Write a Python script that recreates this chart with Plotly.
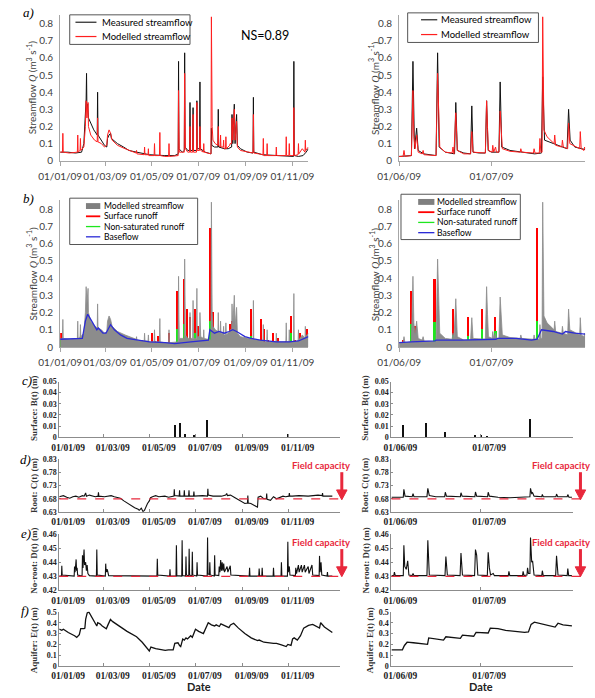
import pandas as pd
import plotly.graph_objects as go

W, H = 595, 698
LEFT_START = "2009-01-01"
RIGHT_START = "2009-06-01"

# ---------------- DATA (day offset from start date, value) ----------------
# a) streamflow Q (m3/s), whole record (from 01/01/09)
a_left_measured = [
    (0, 0.05), (10, 0.05), (20, 0.045), (28, 0.05), (31, 0.1), (33, 0.3), (34, 0.36), (34.5, 0.51), (35, 0.3), (36, 0.33),
    (37, 0.25), (40, 0.22), (44, 0.18), (48.5, 0.15), (49, 0.40), (49.5, 0.15), (54, 0.12), (58, 0.09), (61, 0.08), (62, 0.13),
    (64, 0.15), (66, 0.16), (67, 0.13), (70, 0.12), (75, 0.1), (83, 0.08), (90, 0.06), (100, 0.05), (117, 0.035), (137, 0.03),
    (150, 0.03), (154.5, 0.04), (155, 0.58), (155.5, 0.07), (160, 0.05), (162.5, 0.06), (163, 0.63), (163.5, 0.08), (167, 0.06), (169.5, 0.06),
    (170, 0.34), (170.5, 0.06), (173.5, 0.06), (174, 0.31), (174.5, 0.06), (178.5, 0.06), (179, 0.35), (179.5, 0.07), (182.5, 0.07), (183, 0.46),
    (183.5, 0.07), (190, 0.05), (197.5, 0.04), (198, 0.19), (198.5, 0.09), (202, 0.08), (206.5, 0.08), (207, 0.3), (207.5, 0.08), (215, 0.07),
    (220, 0.07), (224.5, 0.08), (225, 0.27), (226, 0.1), (228, 0.33), (229, 0.1), (231, 0.27), (232, 0.09), (236, 0.07), (245, 0.05),
    (252.5, 0.045), (253, 0.37), (253.5, 0.05), (265, 0.035), (280, 0.03), (295, 0.025), (305.5, 0.025), (306, 0.58), (306.5, 0.03), (312, 0.025),
    (318, 0.03), (322, 0.05), (325, 0.07),
]
a_left_modelled = [
    (0, 0.05), (3, 0.05), (3.5, 0.16), (4, 0.05), (12, 0.045), (22.5, 0.05), (23, 0.15), (23.5, 0.05), (26, 0.06), (26.5, 0.13),
    (27, 0.06), (31, 0.08), (33, 0.2), (34, 0.35), (35, 0.25), (36.5, 0.34), (37, 0.2), (40, 0.15), (45, 0.12), (48.5, 0.11),
    (49, 0.25), (49.5, 0.11), (54, 0.1), (58, 0.08), (61, 0.09), (62, 0.15), (64, 0.18), (66, 0.16), (68, 0.12), (75, 0.09),
    (85, 0.07), (95, 0.05), (99.5, 0.045), (100, 0.06), (100.5, 0.04), (110, 0.035), (110.5, 0.08), (111, 0.035), (115, 0.035), (115.5, 0.07),
    (116, 0.03), (123, 0.03), (123.5, 0.1), (124, 0.03), (130, 0.03), (130.5, 0.165), (131, 0.03), (137, 0.025), (142, 0.025), (142.5, 0.1),
    (143, 0.025), (154.5, 0.03), (155, 0.41), (155.5, 0.19), (156, 0.05), (162.5, 0.05), (163, 0.51), (164, 0.07), (167, 0.05), (169.5, 0.05),
    (170, 0.2), (170.5, 0.05), (173.5, 0.05), (174, 0.27), (174.5, 0.05), (178.5, 0.05), (179, 0.34), (179.5, 0.06), (182.5, 0.06), (183, 0.2),
    (184, 0.06), (187.5, 0.05), (188, 0.1), (188.5, 0.05), (197.5, 0.04), (198, 0.84), (199, 0.2), (200, 0.12), (203, 0.1), (206.5, 0.09),
    (207, 0.2), (207.5, 0.09), (209.5, 0.08), (210, 0.15), (210.5, 0.08), (213.5, 0.08), (214, 0.12), (214.5, 0.07), (216.5, 0.07), (217, 0.14),
    (217.5, 0.07), (222, 0.09), (222.5, 0.1), (224.5, 0.1), (225, 0.25), (226, 0.12), (228, 0.3), (229, 0.12), (231, 0.23), (232, 0.08),
    (236, 0.06), (245, 0.05), (252.5, 0.045), (253, 0.27), (253.5, 0.045), (260, 0.04), (265.5, 0.035), (266, 0.13), (266.5, 0.03), (270.5, 0.03),
    (271, 0.1), (271.5, 0.03), (282.5, 0.03), (283, 0.08), (283.5, 0.03), (295.5, 0.03), (296, 0.14), (296.5, 0.03), (299.5, 0.03), (300, 0.1),
    (300.5, 0.03), (305.5, 0.03), (306, 0.31), (306.5, 0.03), (311.5, 0.035), (312, 0.1), (312.5, 0.04), (317, 0.07), (320.5, 0.05), (321, 0.12),
    (321.5, 0.06), (325, 0.08),
]
# a) zoom June-July (from 01/06/09)
a_right_measured = [
    (0, 0.025), (4, 0.03), (4.5, 0.58), (5, 0.07), (5.7, 0.19), (6.2, 0.06), (8, 0.04), (12, 0.03), (12.5, 0.63), (13, 0.08),
    (15, 0.05), (18, 0.04), (18.4, 0.34), (18.9, 0.06), (21, 0.045), (23.2, 0.04), (23.6, 0.32), (24, 0.05), (26, 0.045), (28, 0.045),
    (28.4, 0.35), (28.9, 0.06), (30, 0.05), (32.4, 0.05), (32.8, 0.46), (33.3, 0.08), (36, 0.06), (40, 0.05), (44, 0.04), (46.2, 0.045),
    (46.6, 0.49), (47.2, 0.12), (50, 0.1), (54.5, 0.07), (55, 0.30), (55.5, 0.12), (57, 0.08), (60.4, 0.065),
]
a_right_modelled = [
    (0, 0.025), (1.3, 0.025), (1.6, 0.06), (1.9, 0.025), (4, 0.03), (4.5, 0.41), (4.8, 0.14), (5.2, 0.07), (5.7, 0.15), (6.2, 0.05),
    (7.5, 0.04), (7.8, 0.06), (8.1, 0.035), (12, 0.03), (12.5, 0.51), (12.8, 0.31), (13.2, 0.08), (15, 0.05), (17.2, 0.045), (17.5, 0.08),
    (17.8, 0.04), (18.4, 0.28), (18.9, 0.06), (21, 0.04), (23.2, 0.04), (23.6, 0.17), (24, 0.05), (28, 0.045), (28.4, 0.35), (28.7, 0.19),
    (29, 0.06), (30.2, 0.05), (30.4, 0.09), (30.7, 0.05), (31.3, 0.08), (31.6, 0.05), (32.4, 0.05), (32.8, 0.29), (33.1, 0.18), (33.5, 0.07),
    (36, 0.055), (39.3, 0.05), (39.5, 0.07), (39.8, 0.05), (43.6, 0.045), (43.8, 0.07), (44.1, 0.045), (45.5, 0.045), (45.7, 0.13), (46, 0.05),
    (46.4, 0.05), (46.6, 0.84), (47, 0.18), (48, 0.14), (50.3, 0.1), (50.5, 0.15), (50.8, 0.09), (52.8, 0.08), (53, 0.12), (53.3, 0.08),
    (54.7, 0.07), (55, 0.22), (55.4, 0.1), (58.6, 0.07), (58.8, 0.17), (59.1, 0.07), (60, 0.06), (60.2, 0.08), (60.4, 0.07),
]
# b) flow components
b_left_baseflow = [
    (0, 0.045), (29, 0.05), (33, 0.15), (36, 0.19), (40, 0.16), (46, 0.12), (48, 0.1), (50, 0.11), (56, 0.08), (60, 0.08),
    (66, 0.13), (71, 0.1), (79, 0.07), (87.5, 0.05), (100, 0.04), (117, 0.03), (137.5, 0.025), (150, 0.02), (171, 0.03), (194, 0.04),
    (196, 0.1), (202, 0.08), (208, 0.09), (215, 0.08), (221, 0.09), (226, 0.1), (231, 0.09), (242, 0.06), (250, 0.05), (262, 0.04),
    (283, 0.03), (300, 0.03), (312, 0.035), (325, 0.06),
]
b_left_surface = [
    (2, 0.08), (4, 0.03), (8, 0.02), (12.5, 0.03), (19, 0.03), (23, 0.03), (27, 0.02), (32.5, 0.06), (39, 0.02), (44, 0.02),
    (50, 0.03), (60, 0.04), (62.5, 0.06), (67, 0.03), (108, 0.04), (121, 0.08), (125, 0.03), (129, 0.06), (143, 0.08), (153, 0.32),
    (158, 0.04), (162, 0.39), (167, 0.22), (171, 0.17), (177, 0.22), (181, 0.12), (183, 0.05), (190, 0.03), (196, 0.69), (200, 0.2),
    (204, 0.05), (208, 0.08), (212, 0.04), (217, 0.05), (223, 0.13), (225, 0.15), (228, 0.1), (233, 0.03), (250, 0.22), (258, 0.03),
    (263, 0.16), (267.5, 0.1), (273, 0.04), (279, 0.08), (285, 0.05), (296, 0.03), (303, 0.18), (308, 0.04), (315, 0.08), (319, 0.05),
    (323, 0.1),
]
b_left_nonsat = [
    (2, 0.04), (10, 0.02), (21, 0.03), (33, 0.07), (35, 0.09), (40, 0.04), (50, 0.03), (63, 0.05), (66, 0.03), (153, 0.1),
    (162, 0.13), (167, 0.05), (177, 0.08), (183, 0.04), (196, 0.15), (200, 0.07), (208, 0.04), (223, 0.08), (225, 0.06), (229, 0.04),
    (250, 0.06), (263, 0.03), (303, 0.08), (317, 0.03),
]
b_right_baseflow = [
    (0, 0.025), (4, 0.03), (11.6, 0.035), (12, 0.04), (20, 0.04), (31.4, 0.045), (32, 0.05), (38, 0.05), (43, 0.04), (44.8, 0.045),
    (46.2, 0.1), (50, 0.09), (53, 0.075), (54, 0.09), (57, 0.08), (60.4, 0.075),
]
b_right_surface = [
    (1.5, 0.04), (3.9, 0.32), (5.2, 0.12), (7.7, 0.04), (11.6, 0.39), (17.5, 0.22), (19, 0.04), (22.5, 0.17), (24.2, 0.04), (27.1, 0.22),
    (29.2, 0.04), (31.2, 0.17), (33.5, 0.04), (37.6, 0.04), (42.8, 0.04), (44.8, 0.69), (49, 0.04), (51, 0.04), (53.6, 0.06), (56.2, 0.04),
    (57, 0.05), (58.2, 0.04),
]
b_right_nonsat = [
    (1.5, 0.02), (4.1, 0.13), (5.2, 0.08), (11.6, 0.14), (17.5, 0.07), (19, 0.02), (22.5, 0.06), (27.1, 0.1), (31.4, 0.09), (33.5, 0.02),
    (44.8, 0.15), (49, 0.02), (53.9, 0.04), (57.2, 0.02),
]
# c) surface storage B(t) (m)
c_left_B = [(154, 0.011), (160, 0.013), (167, 0.003), (178.5, 0.002), (180.6, 0.002), (196, 0.016), (303, 0.003)]
c_right_B = [(4.2, 0.011), (12, 0.0135), (18.2, 0.0055), (28.4, 0.002), (30.5, 0.002), (32.6, 0.001), (47, 0.0165)]
# d) root zone C(t) (m)
d_left_C = [
    (0, 0.688), (5.5, 0.692), (10, 0.686), (14, 0.682), (18, 0.688), (22, 0.69), (26, 0.686), (30.8, 0.692), (33, 0.69), (35, 0.702),
    (36, 0.69), (40, 0.694), (47.7, 0.688), (51.5, 0.69), (52, 0.705), (52.5, 0.69), (60, 0.688), (68.8, 0.692), (73, 0.688), (77, 0.684),
    (81, 0.682), (85.7, 0.672), (90, 0.664), (94, 0.656), (100, 0.646), (104.6, 0.64), (106, 0.636), (108.8, 0.644), (111, 0.632), (113, 0.636),
    (115, 0.65), (117, 0.662), (119.4, 0.672), (121, 0.684), (123.6, 0.688), (127.8, 0.692), (132, 0.688), (140, 0.69), (145, 0.686), (152, 0.69),
    (152.5, 0.716), (153, 0.692), (159, 0.69), (159.5, 0.712), (160, 0.69), (165.3, 0.69), (165.8, 0.712), (166.3, 0.69), (171.5, 0.69), (172, 0.712),
    (172.5, 0.69), (178, 0.69), (178.5, 0.708), (179, 0.69), (190, 0.692), (196.5, 0.69), (197, 0.718), (197.5, 0.694), (203.8, 0.69), (215, 0.69),
    (220.7, 0.694), (222, 0.70), (223, 0.692), (227, 0.694), (233, 0.684), (237, 0.678), (241.8, 0.668), (246, 0.662), (249.5, 0.664), (250, 0.692),
    (250.5, 0.664), (254, 0.662), (258.6, 0.656), (262.8, 0.648), (263.6, 0.686), (267, 0.69), (271, 0.68), (274.5, 0.68), (275, 0.70), (275.5, 0.678),
    (280, 0.674), (284, 0.688), (288, 0.68), (292, 0.686), (296.6, 0.69), (300, 0.688), (304.5, 0.69), (305, 0.702), (305.5, 0.69), (309, 0.69),
    (317.7, 0.692), (330, 0.69), (343, 0.694), (348.5, 0.692), (349, 0.702), (349.5, 0.69), (355.7, 0.69), (362, 0.69),
]
d_right_C = [
    (0, 0.686), (4, 0.686), (4.2, 0.716), (4.6, 0.69), (7, 0.688), (7.3, 0.70), (7.6, 0.688), (12, 0.688), (12.3, 0.72), (12.8, 0.692),
    (15, 0.688), (18, 0.688), (18.2, 0.705), (18.6, 0.69), (23.3, 0.688), (23.5, 0.703), (23.9, 0.69), (28.2, 0.688), (28.4, 0.706), (28.8, 0.69),
    (32.5, 0.688), (32.7, 0.705), (33.1, 0.69), (36, 0.686), (40, 0.684), (44, 0.685), (46.8, 0.688), (47, 0.72), (47.4, 0.70), (47.7, 0.703),
    (48.2, 0.69), (50.8, 0.688), (51, 0.697), (51.3, 0.688), (55.6, 0.688), (55.8, 0.698), (56.2, 0.688), (59.4, 0.688), (59.6, 0.696), (60, 0.686),
    (61, 0.686),
]
# e) non-root zone D(t) (m)
e_left_D = [
    (0, 0.4302), (3, 0.4302), (3.4, 0.4375), (3.9, 0.431), (19.8, 0.4302), (20.3, 0.437), (21, 0.433), (22.4, 0.442), (23, 0.434), (23.7, 0.436),
    (24.4, 0.431), (30.3, 0.4302), (30.8, 0.445), (31.5, 0.436), (32.9, 0.449), (33.6, 0.438), (35, 0.44), (36, 0.434), (37, 0.438), (38, 0.432),
    (40, 0.4305), (49.3, 0.4302), (49.8, 0.449), (50.4, 0.431), (61.1, 0.4302), (61.6, 0.439), (62.2, 0.433), (63.7, 0.435), (64.5, 0.433), (65.5, 0.4305),
    (129.5, 0.4302), (130, 0.4425), (130.6, 0.431), (146.3, 0.4302), (146.8, 0.435), (147.3, 0.4302), (154.8, 0.4302), (155.3, 0.452), (155.9, 0.4305), (162.4, 0.4302),
    (162.9, 0.4555), (163.5, 0.4305), (167.5, 0.4302), (168, 0.444), (168.6, 0.431), (171.7, 0.4302), (172.2, 0.4495), (172.8, 0.431), (175.9, 0.4302), (176.4, 0.4475),
    (177, 0.431), (182.2, 0.4302), (182.7, 0.44), (183.3, 0.431), (196.1, 0.4302), (196.6, 0.4575), (197.2, 0.432), (199.1, 0.431), (199.6, 0.44), (200.2, 0.431),
    (205.5, 0.4302), (206, 0.445), (206.6, 0.431), (211.5, 0.4305), (212, 0.437), (213, 0.433), (214, 0.4415), (215, 0.434), (216, 0.44), (217, 0.434),
    (218, 0.439), (219, 0.433), (222.5, 0.437), (223.5, 0.433), (226.7, 0.4375), (227.5, 0.431), (251.8, 0.4302), (252.3, 0.436), (252.8, 0.4302), (264.5, 0.4302),
    (265, 0.4355), (265.6, 0.4305), (268.5, 0.4302), (269, 0.436), (269.6, 0.4302), (283.5, 0.4302), (284, 0.436), (284.6, 0.4302), (294, 0.4302), (294.5, 0.44),
    (295.1, 0.4302), (302.5, 0.4302), (303, 0.4545), (303.6, 0.433), (305, 0.437), (305.8, 0.431), (313, 0.4305), (313.5, 0.436), (314.5, 0.432), (317, 0.438),
    (318, 0.433), (321, 0.438), (322, 0.433), (325, 0.438), (326, 0.433), (330, 0.437), (331, 0.432), (335, 0.438), (336, 0.431), (344.5, 0.4305),
    (345, 0.4445), (345.8, 0.433), (347, 0.44), (348, 0.431), (355, 0.4302), (355.5, 0.433), (356, 0.4302), (362, 0.4302),
]
e_right_D = [
    (0, 0.4305), (0.8, 0.4305), (1, 0.433), (1.3, 0.4305), (4, 0.4305), (4.2, 0.452), (4.5, 0.437), (5, 0.435), (5.5, 0.441), (5.9, 0.431),
    (7, 0.4305), (7.3, 0.432), (7.6, 0.4305), (12, 0.4305), (12.3, 0.4555), (12.8, 0.431), (18.1, 0.4305), (18.4, 0.444), (18.9, 0.431), (23.2, 0.4305),
    (23.5, 0.4465), (24, 0.431), (28.1, 0.4305), (28.4, 0.449), (28.8, 0.445), (29.2, 0.431), (32.4, 0.4305), (32.7, 0.447), (33.1, 0.436), (33.5, 0.431),
    (34.4, 0.432), (34.8, 0.4305), (39.5, 0.4305), (39.7, 0.4335), (40, 0.4305), (44.3, 0.4305), (44.5, 0.4335), (44.8, 0.4305), (45.8, 0.431), (46, 0.436),
    (46.3, 0.432), (46.8, 0.432), (47, 0.4575), (47.4, 0.44), (47.7, 0.441), (48.2, 0.431), (50.8, 0.4305), (51, 0.434), (51.3, 0.4305), (55.5, 0.4305),
    (55.8, 0.4445), (56.3, 0.431), (59.4, 0.4305), (59.6, 0.4355), (59.9, 0.4305), (61, 0.4305),
]
# f) aquifer E(t) (m)
f_left_E = [
    (0, 0.34), (3.4, 0.33), (5.5, 0.34), (12, 0.31), (20.3, 0.28), (23.2, 0.265), (26.6, 0.29), (28.5, 0.345), (32.9, 0.345), (34, 0.35),
    (35, 0.43), (37.1, 0.49), (39.2, 0.50), (43.4, 0.45), (45.6, 0.42), (49.8, 0.37), (51, 0.40), (54, 0.39), (57, 0.37), (60.3, 0.35),
    (62.4, 0.345), (64.6, 0.38), (67.9, 0.43), (70.9, 0.41), (77.2, 0.38), (89.9, 0.32), (102.5, 0.27), (110, 0.22), (119.4, 0.14), (120.2, 0.15),
    (121.5, 0.175), (127.8, 0.16), (135, 0.15), (140.5, 0.145), (144.7, 0.15), (151, 0.15), (153.2, 0.21), (157.4, 0.215), (159.5, 0.19), (161, 0.18),
    (163.7, 0.25), (165.8, 0.24), (168, 0.26), (170, 0.25), (174.3, 0.28), (176.4, 0.265), (180.6, 0.34), (184.8, 0.32), (191.1, 0.30), (197.5, 0.40),
    (201.7, 0.38), (205.9, 0.37), (208, 0.38), (212.2, 0.365), (214.3, 0.39), (220.7, 0.37), (224.9, 0.355), (227, 0.38), (229.1, 0.39), (231.2, 0.395),
    (237.6, 0.35), (246, 0.30), (254.4, 0.26), (262.9, 0.235), (265, 0.24), (271.3, 0.22), (284, 0.21), (288, 0.21), (294.5, 0.195), (300.8, 0.18),
    (303, 0.20), (305, 0.195), (307.2, 0.19), (309.3, 0.25), (311.4, 0.26), (315.6, 0.24), (319.8, 0.28), (324, 0.35), (328.3, 0.37), (330.4, 0.375),
    (336, 0.385), (345, 0.35), (346.5, 0.40), (351.5, 0.36), (362, 0.31),
]
f_right_E = [
    (0, 0.15), (3.1, 0.15), (3.7, 0.15), (4.4, 0.19), (5.3, 0.22), (7.4, 0.215), (11.7, 0.205), (12.2, 0.20), (12.6, 0.26), (13.9, 0.255),
    (17.6, 0.24), (18.4, 0.27), (20.3, 0.265), (23.3, 0.255), (24, 0.285), (27.8, 0.275), (28.6, 0.31), (32.7, 0.305), (33.4, 0.35), (36, 0.345),
    (38.6, 0.33), (45, 0.31), (46.3, 0.315), (47.2, 0.385), (48.3, 0.405), (50.4, 0.39), (55.3, 0.36), (56.3, 0.395), (58, 0.38), (61, 0.37),
]
FIELD_CAP_ROOT = 0.68
FIELD_CAP_NOROOT = 0.43
NS_VALUE = 0.89

left_tick_dates = ["2009-01-01", "2009-03-01", "2009-05-01", "2009-07-01", "2009-09-01", "2009-11-01"]
left_tick_labels = ["01/01/09", "01/03/09", "01/05/09", "01/07/09", "01/09/09", "01/11/09"]
right_tick_dates = ["2009-06-01", "2009-07-01"]
right_tick_labels = ["01/06/09", "01/07/09"]
q_ticks = [0, 0.1, 0.2, 0.3, 0.4, 0.5, 0.6, 0.7, 0.8]
b_ticks = [0, 0.01, 0.02, 0.03, 0.04, 0.05]
c_ticks = [0.63, 0.68, 0.73, 0.78, 0.83]
d_ticks = [0.42, 0.43, 0.44, 0.45, 0.46]
e_ticks = [0, 0.1, 0.2, 0.3, 0.4, 0.5]


def series(pairs, start):
    days = [p[0] for p in pairs]
    vals = [p[1] for p in pairs]
    x = pd.Timestamp(start) + pd.to_timedelta(days, unit="D")
    return [t.isoformat() for t in x], vals


def fmt(v):
    return "0" if v == 0 else ("%g" % v)


def px_x(a, b):
    return [a / W, b / W]


def px_y(top, bottom):
    return [1 - bottom / H, 1 - top / H]


def day_after(start, d):
    return (pd.Timestamp(start) + pd.Timedelta(days=d)).isoformat()


SANS = "Lato"
SERIF = "Liberation Serif"
RED = "#ff1f1f"
fig = go.Figure()


def ax(n):
    return ("x" if n == 1 else "x%d" % n), ("y" if n == 1 else "y%d" % n)


def add_line(n, pairs, start, color, width):
    xr, yr = ax(n)
    x, y = series(pairs, start)
    fig.add_trace(go.Scatter(x=x, y=y, mode="lines", line=dict(color=color, width=width),
                             xaxis=xr, yaxis=yr, showlegend=False, hoverinfo="skip"))


def add_area(n, pairs, start, color):
    xr, yr = ax(n)
    x, y = series(pairs, start)
    fig.add_trace(go.Scatter(x=x, y=y, mode="lines", line=dict(color=color, width=0.8), fill="tozeroy",
                             fillcolor=color, xaxis=xr, yaxis=yr, showlegend=False, hoverinfo="skip"))


def add_bars(n, pairs, start, color, wdays):
    xr, yr = ax(n)
    x, y = series(pairs, start)
    fig.add_trace(go.Bar(x=x, y=y, width=wdays * 86400000, marker=dict(color=color, line=dict(width=0)),
                         xaxis=xr, yaxis=yr, showlegend=False, hoverinfo="skip"))


# a)
add_line(1, a_left_measured, LEFT_START, "#111111", 1.0)
add_line(1, a_left_modelled, LEFT_START, RED, 1.0)
add_line(2, a_right_measured, RIGHT_START, "#111111", 1.0)
add_line(2, a_right_modelled, RIGHT_START, RED, 1.0)
# b)
add_area(3, a_left_modelled, LEFT_START, "#8c8c8c")
add_bars(3, b_left_surface, LEFT_START, "#ff0000", 1.6)
add_bars(3, b_left_nonsat, LEFT_START, "#1ee61e", 1.6)
add_line(3, b_left_baseflow, LEFT_START, "#2b2bd6", 1.3)
add_area(4, a_right_modelled, RIGHT_START, "#8c8c8c")
add_bars(4, b_right_surface, RIGHT_START, "#ff0000", 0.55)
add_bars(4, b_right_nonsat, RIGHT_START, "#1ee61e", 0.55)
add_line(4, b_right_baseflow, RIGHT_START, "#2b2bd6", 1.3)
# c)
add_bars(5, c_left_B, LEFT_START, "#111111", 1.3)
add_bars(6, c_right_B, RIGHT_START, "#111111", 0.4)
# d)
add_line(7, d_left_C, LEFT_START, "#111111", 1.1)
add_line(8, d_right_C, RIGHT_START, "#111111", 1.1)
# e)
add_line(9, e_left_D, LEFT_START, "#111111", 1.1)
add_line(10, e_right_D, RIGHT_START, "#111111", 1.1)
# f)
add_line(11, f_left_E, LEFT_START, "#111111", 1.3)
add_line(12, f_right_E, RIGHT_START, "#111111", 1.3)

layout = dict(width=W, height=H, margin=dict(l=0, r=0, t=0, b=0), paper_bgcolor="white",
              plot_bgcolor="white", barmode="overlay", bargap=0, showlegend=False)

AB_XDOM = {"L": px_x(40, 300), "R": px_x(395, 590)}
CF_XDOM = {"L": px_x(39, 333), "R": px_x(387, 577)}
AB_XRANGE = {"L": [LEFT_START, day_after(LEFT_START, 325)], "R": [RIGHT_START, day_after(RIGHT_START, 60.4)]}
CF_XRANGE = {"L": [LEFT_START, day_after(LEFT_START, 372)], "R": [RIGHT_START, day_after(RIGHT_START, 61.3)]}

rows = [
    (1, (11.3, 159), [0, 0.85], q_ticks, "ab"),
    (3, (199.3, 348), [0, 0.85], q_ticks, "ab"),
    (5, (383, 439.5), [0, 0.05], b_ticks, "cf"),
    (7, (462, 515.3), [0.63, 0.83], c_ticks, "cf"),
    (9, (537.7, 595), [0.42, 0.46], d_ticks, "cf"),
    (11, (616.7, 671.7), [0, 0.5], e_ticks, "cf"),
]

for nL, (yt, yb), yr, yt_vals, kind in rows:
    for side, n in (("L", nL), ("R", nL + 1)):
        xk = "xaxis" if n == 1 else "xaxis%d" % n
        yk = "yaxis" if n == 1 else "yaxis%d" % n
        xr_, yr_ = ax(n)
        tv = left_tick_dates if side == "L" else right_tick_dates
        tt = left_tick_labels if side == "L" else right_tick_labels
        if kind == "ab":
            layout[xk] = dict(domain=AB_XDOM[side], range=AB_XRANGE[side], type="date", anchor=yr_,
                              tickmode="array", tickvals=tv, ticktext=tt, tickangle=0, showline=True,
                              linecolor="#a6a6a6", linewidth=1, ticks="outside", ticklen=4, tickcolor="#a6a6a6",
                              showgrid=False, zeroline=False, ticklabelstandoff=2,
                              tickfont=dict(family=SANS, size=10, color="#404040"))
            layout[yk] = dict(domain=px_y(yt, yb), range=yr, anchor=xr_, tickmode="array", tickvals=yt_vals,
                              ticktext=[fmt(v) for v in yt_vals], showline=True, linecolor="#a6a6a6", linewidth=1,
                              ticks="", showgrid=False, zeroline=False, ticklabelstandoff=4,
                              tickfont=dict(family=SANS, size=10, color="#404040"))
        else:
            layout[xk] = dict(domain=CF_XDOM[side], range=CF_XRANGE[side], type="date", anchor=yr_,
                              tickmode="array", tickvals=tv, ticktext=tt, tickangle=0, showline=True,
                              linecolor="#8c8c8c", linewidth=1, ticks="inside", ticklen=3, tickcolor="#8c8c8c",
                              showgrid=False, zeroline=False, ticklabelshift=9, ticklabelstandoff=1,
                              tickfont=dict(family=SERIF, size=9.5, color="#222222", weight="bold"))
            layout[yk] = dict(domain=px_y(yt, yb), range=yr, anchor=xr_, tickmode="array", tickvals=yt_vals,
                              ticktext=[fmt(v) for v in yt_vals], showline=True, linecolor="#8c8c8c", linewidth=1,
                              ticks="inside", ticklen=2, tickcolor="#8c8c8c", showgrid=False, zeroline=False,
                              tickfont=dict(family=SERIF, size=8, color="#222222", weight="bold"))

annotations = []
shapes = []


def note(text, x, y, size=10, family=SANS, color="#000", xanchor="center", yanchor="middle", angle=0,
         style="normal", weight="normal"):
    annotations.append(dict(text=text, x=x / W, y=1 - y / H, xref="paper", yref="paper", showarrow=False,
                            xanchor=xanchor, yanchor=yanchor, textangle=angle,
                            font=dict(size=size, family=family, color=color, style=style, weight=weight)))


for letter, x, y in (("a)", 7, 9), ("b)", 7, 197), ("c)", 5, 382), ("d)", 4, 462), ("e)", 4, 537), ("f)", 3, 615)):
    note(letter, x, y, size=13, family=SERIF, style="italic")

q_title = "Streamflow <span style='font-family:Liberation Serif'><i>Q</i></span> (m<sup>3</sup> s<sup>-1</sup>)"
for x, y in ((10, 85), (369, 85), (10, 274), (369, 274)):
    note(q_title, x, y, size=10, color="#404040", angle=-90)
for txt, yc, xl, xr in (("Surface: B(t) (m)", 410, 12.5, 359), ("Root: C(t) (m)", 488, 12.5, 359),
                        ("No-root: D(t) (m)", 565, 12.5, 360), ("Aquifer: E(t) (m)", 645, 12, 364)):
    note(txt, xl, yc, size=9, family=SERIF, color="#333", angle=-90, weight="bold")
    note(txt, xr, yc, size=9, family=SERIF, color="#333", angle=-90, weight="bold")

note("NS=%.2f" % NS_VALUE, 255, 32, size=12.5)

note("Date", 185, 692, size=11, weight="bold", color="#222")
note("Date", 481, 692, size=11, weight="bold", color="#222")


def legend_box(x0, y0, x1, y1):
    shapes.append(dict(type="rect", xref="paper", yref="paper", x0=x0 / W, x1=x1 / W, y0=1 - y1 / H, y1=1 - y0 / H,
                       line=dict(color="#555", width=1), fillcolor="white", layer="above"))


def legend_line(x0, x1, y, color, width=1.2):
    shapes.append(dict(type="line", xref="paper", yref="paper", x0=x0 / W, x1=x1 / W, y0=1 - y / H, y1=1 - y / H,
                       line=dict(color=color, width=width), layer="above"))


def legend_patch(x0, x1, y, color):
    shapes.append(dict(type="rect", xref="paper", yref="paper", x0=x0 / W, x1=x1 / W, y0=1 - (y + 3) / H,
                       y1=1 - (y - 3) / H, line=dict(width=0), fillcolor=color, layer="above"))


legend_box(50, 11, 176, 41)
legend_line(56, 78, 18.5, "#222")
legend_line(56, 78, 33, RED)
note("Measured streamflow", 82, 18.5, size=9.5, xanchor="left")
note("Modelled streamflow", 82, 33, size=9.5, xanchor="left")

legend_box(404, 9, 541, 39)
legend_line(418, 435, 16, "#222")
legend_line(418, 435, 31, RED)
note("Measured streamflow", 437, 16, size=9.5, xanchor="left")
note("Modelled streamflow", 437, 31, size=9.5, xanchor="left")

for (bx0, by0, bx1, by1, sx0, sx1, tx, ys) in ((50, 197, 184, 244, 67, 82, 84, (205, 215.4, 225.8, 236.2)),
                                              (397, 193, 522, 239, 415, 432, 433, (200.8, 211.2, 221.6, 232))):
    legend_box(bx0, by0, bx1, by1)
    legend_patch(sx0, sx1, ys[0], "#7f7f7f")
    legend_line(sx0, sx1, ys[1], "#ff0000", 1.8)
    legend_line(sx0, sx1, ys[2], "#1ee61e", 1.3)
    legend_line(sx0, sx1, ys[3], "#2b2bd6", 1.3)
    for t, yy in zip(("Modelled streamflow", "Surface runoff", "Non-saturated runoff", "Baseflow"), ys):
        note(t, tx, yy, size=8.6, xanchor="left")

FC_RED = "#e8283c"
for n, fc in ((7, FIELD_CAP_ROOT), (9, FIELD_CAP_NOROOT)):
    xr_, yr_ = ax(n)
    shapes.append(dict(type="line", xref=xr_ + " domain", yref=yr_, x0=0, x1=1, y0=fc, y1=fc,
                       line=dict(color=FC_RED, width=1.2, dash="dash"), layer="above"))
for n, fc in ((8, FIELD_CAP_ROOT), (10, FIELD_CAP_NOROOT)):
    xr_, yr_ = ax(n)
    shapes.append(dict(type="line", xref="paper", yref=yr_, x0=387 / W, x1=590 / W, y0=fc, y1=fc,
                       line=dict(color=FC_RED, width=1.2, dash="dash"), layer="above"))


def arrow(x, y0, y1):
    shapes.append(dict(type="line", xref="paper", yref="paper", x0=x / W, x1=x / W, y0=1 - y0 / H,
                       y1=1 - (y1 - 8) / H, line=dict(color=FC_RED, width=3), layer="above"))
    path = "M %f %f L %f %f L %f %f Z" % ((x - 5.5) / W, 1 - (y1 - 10) / H, (x + 5.5) / W, 1 - (y1 - 10) / H,
                                          x / W, 1 - y1 / H)
    shapes.append(dict(type="path", xref="paper", yref="paper", path=path, fillcolor=FC_RED,
                       line=dict(color=FC_RED, width=1), layer="above"))


for ty, ay0, ay1 in ((468, 475, 503), (546, 553, 581)):
    for tx, axx in ((313, 335), (565, 585)):
        note("Field capacity", tx, ty, size=9.5, color=FC_RED, weight="bold")
        arrow(axx, ay0, ay1)

layout["annotations"] = annotations
layout["shapes"] = shapes
fig.update_layout(**layout)
fig.write_html("out.html")
